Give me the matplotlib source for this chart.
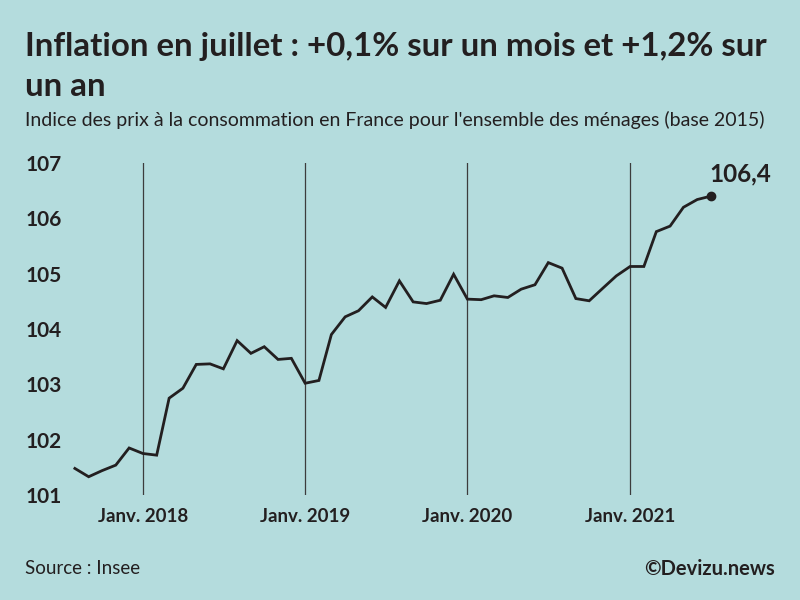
import matplotlib

matplotlib.use("Agg")
import matplotlib.pyplot as plt
import pandas as pd

# ========= données =========
# Indice des prix à la consommation (base 2015), août 2017 -> juillet 2021
months = pd.date_range("2017-08-01", periods=48, freq="MS")
ipc = [
    101.48, 101.33, 101.44, 101.54, 101.85,  # 2017
    101.75, 101.72, 102.75, 102.93, 103.36, 103.37,
    103.28, 103.79, 103.56, 103.68, 103.45, 103.47,  # 2018
    103.02, 103.07, 103.90, 104.22, 104.33, 104.58,
    104.39, 104.87, 104.49, 104.46, 104.52, 104.99,  # 2019
    104.54, 104.53, 104.60, 104.57, 104.72, 104.80,
    105.20, 105.10, 104.55, 104.51, 104.74, 104.96,  # 2020
    105.13, 105.13, 105.76, 105.86, 106.20, 106.34, 106.40,  # 2021
]
year_marks = pd.to_datetime(["2018-01-01", "2019-01-01", "2020-01-01", "2021-01-01"])
year_labels = ["Janv. 2018", "Janv. 2019", "Janv. 2020", "Janv. 2021"]
y_ticks = [101, 102, 103, 104, 105, 106, 107]

# ========= style =========
BG = "#b4dcdd"
INK = "#231f20"
plt.rcParams["font.family"] = ["Lato", "DejaVu Sans"]

fig = plt.figure(figsize=(8, 6), dpi=100, facecolor=BG)
ax = fig.add_axes([0.0875, 0.175, 0.88125, 0.5533])
ax.set_facecolor(BG)

# lignes verticales des années
for d in year_marks:
    ax.axvline(d, color="#3c3c3c", lw=0.9, zorder=1)

ax.plot(months, ipc, color=INK, lw=2.0, zorder=3, solid_joinstyle="miter")
ax.plot(months[-1], ipc[-1], "o", color=INK, ms=6, zorder=4)
ax.annotate(
    f"{ipc[-1]:.1f}".replace(".", ","),
    xy=(months[-1], ipc[-1]),
    xytext=(-1, 8),
    textcoords="offset points",
    ha="left",
    va="bottom",
    fontsize=17.5,
    fontweight="bold",
    color=INK,
)

ax.set_ylim(101, 107)
ax.set_xlim(pd.Timestamp("2017-07-21"), pd.Timestamp("2021-11-23"))
ax.set_yticks(y_ticks)
ax.set_yticklabels([str(v) for v in y_ticks], fontweight="bold", fontsize=15, color=INK)
ax.set_xticks(year_marks)
ax.set_xticklabels(year_labels, fontweight="bold", fontsize=13.5, color=INK)
ax.tick_params(axis="both", length=0)
ax.tick_params(axis="y", pad=6)
ax.tick_params(axis="x", pad=9)
for s in ax.spines.values():
    s.set_visible(False)

# ========= textes =========
fig.text(
    0.031, 0.923,
    "Inflation en juillet : +0,1% sur un mois et +1,2% sur",
    fontsize=23.8, fontweight="bold", color=INK, va="center",
)
fig.text(0.031, 0.856, "un an", fontsize=23.8, fontweight="bold", color=INK, va="center")
fig.text(
    0.031, 0.8,
    "Indice des prix à la consommation en France pour l'ensemble des ménages (base 2015)",
    fontsize=14, fontweight="normal", color=INK, va="center",
)
fig.text(0.031, 0.052, "Source : Insee", fontsize=13.5, fontweight="normal", color=INK, va="center")
fig.text(0.969, 0.052, "©Devizu.news", fontsize=14.5, fontweight="bold", color=INK,
         va="center", ha="right")

fig.savefig("out.png", dpi=100, facecolor=BG)
